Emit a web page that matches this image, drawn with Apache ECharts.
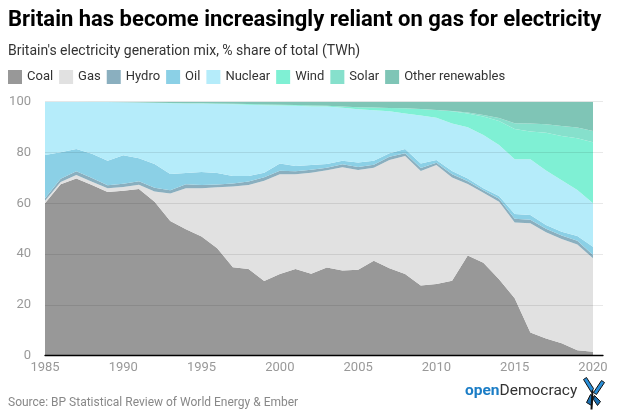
<!DOCTYPE html>
<html>
<head>
<meta charset="utf-8">
<script src="https://cdn.jsdelivr.net/npm/echarts@6/dist/echarts.min.js"></script>
<style>
html,body{margin:0;padding:0;background:#fff;}
#chart{width:618px;height:419px;}
</style>
</head>
<body>
<div id="chart"></div>
<script>
const years = [1985,1986,1987,1988,1989,1990,1991,1992,1993,1994,1995,1996,1997,1998,1999,2000,2001,2002,2003,2004,2005,2006,2007,2008,2009,2010,2011,2012,2013,2014,2015,2016,2017,2018,2019,2020];
const coal    = [60.0,67.5,69.8,67.2,64.4,64.9,65.6,60.6,53.0,49.8,46.9,42.3,34.8,34.1,29.4,32.2,34.1,32.3,34.7,33.5,33.8,37.4,34.4,32.2,27.6,28.2,29.5,39.4,36.6,30.1,22.6,9.1,6.8,4.9,2.1,1.6];
const gas     = [1.0,0.9,1.3,1.3,1.5,1.5,1.7,4.0,10.9,16.1,19.0,24.0,31.8,33.1,39.5,39.2,37.3,39.7,38.3,40.7,39.3,36.6,42.6,46.4,45.1,46.9,40.7,28.2,27.6,30.5,29.8,43.0,41.8,41.0,41.7,36.8];
const hydro   = [1.0,1.3,1.5,1.5,1.2,1.3,1.4,1.5,1.2,1.6,1.3,1.1,1.2,1.4,1.4,1.4,1.2,1.2,1.0,1.2,1.2,1.2,1.3,1.1,1.2,0.9,1.2,1.1,0.9,1.2,1.5,1.4,1.4,1.4,1.5,1.2];
const oil     = [17.0,10.4,8.8,9.5,9.7,11.2,9.0,9.4,6.4,4.4,5.1,4.5,2.9,2.1,1.7,2.9,2.1,1.9,1.5,1.4,1.8,1.6,1.4,1.7,1.8,1.0,1.3,1.1,0.8,1.1,1.9,1.9,1.5,1.5,1.8,3.3];
const nuclear = [21.0,19.9,18.6,20.4,23.1,20.9,22.0,24.0,27.9,27.4,27.0,27.2,28.3,28.1,26.6,22.8,23.7,23.0,22.6,20.8,20.9,19.8,16.5,14.0,18.9,16.7,18.7,20.1,21.0,20.1,21.5,21.9,21.4,20.3,18.1,17.1];
const wind    = [0,0,0,0,0,0,0,0.05,0.1,0.1,0.1,0.15,0.2,0.3,0.3,0.3,0.3,0.4,0.3,0.5,0.8,1.1,1.3,2.0,2.5,3.0,4.8,5.5,7.3,9.4,12.0,11.0,14.9,17.4,20.4,24.0];
const solar   = [0,0,0,0,0,0,0,0,0,0,0,0,0,0,0,0,0,0,0,0,0,0,0,0,0,0,0.1,0.3,0.6,1.2,2.2,3.1,3.3,3.9,4.2,4.5];
const otherRen= [0,0,0,0.1,0.1,0.2,0.3,0.4,0.5,0.6,0.6,0.7,0.8,0.9,1.1,1.2,1.3,1.5,1.6,1.9,2.2,2.3,2.5,2.6,2.9,3.3,3.7,4.3,5.2,6.4,8.5,8.6,8.9,9.6,10.2,11.5];
const yTicks = [0,20,40,60,80,100];

const seriesDefs = [
  ['Coal', coal, '#989898'],
  ['Gas', gas, '#e1e1e1'],
  ['Hydro', hydro, '#8aafbf'],
  ['Oil', oil, '#8bd0e6'],
  ['Nuclear', nuclear, '#b5ecfa'],
  ['Wind', wind, '#7ff0d4'],
  ['Solar', solar, '#86e0cc'],
  ['Other renewables', otherRen, '#7fc5b6']
];

const chart = echarts.init(document.getElementById('chart'), null, {renderer:'canvas'});
const font = 'Roboto, "Noto Sans", sans-serif';

const option = {
  animation: false,
  textStyle: {fontFamily: font},
  title: [
    {text: 'Britain has become increasingly reliant on gas for electricity', left: 8, top: 9, padding: 0,
     textStyle: {fontFamily: font, fontSize: 22, fontWeight: 'bold', color: '#000'}},
    {text: "Britain's electricity generation mix, % share of total (TWh)", left: 8, top: 44, padding: 0,
     textStyle: {fontFamily: font, fontSize: 14, fontWeight: 'normal', color: '#333'}},
    {text: 'Source: BP Statistical Review of World Energy & Ember', left: 8, top: 397, padding: 0,
     textStyle: {fontFamily: font, fontSize: 12, fontWeight: 'normal', color: '#888'}}
  ],
  legend: {
    left: 8, top: 70, padding: 0, itemWidth: 14, itemHeight: 14, itemGap: 6, icon: 'rect',
    textStyle: {fontFamily: font, fontSize: 13, color: '#333'},
    data: seriesDefs.map(d => d[0])
  },
  grid: {left: 45, right: 15, top: 101.7, bottom: 63.3},
  xAxis: {
    type: 'value', min: 1985, max: 2020.64, interval: 5, z: 5,
    axisLine: {show: true, lineStyle: {color: '#000', width: 1.3}},
    axisTick: {show: false},
    splitLine: {show: false},
    axisLabel: {showMaxLabel: false, color: '#999', fontSize: 13, margin: 6, fontFamily: font,
      formatter: v => String(v)}
  },
  yAxis: {
    type: 'value', min: 0, max: 100, interval: 20, z: 4,
    axisLine: {show: false}, axisTick: {show: false},
    splitLine: {lineStyle: {color: 'rgba(0,0,0,0.09)', width: 1}},
    axisLabel: {color: '#999', fontSize: 13, margin: 14, fontFamily: font,
      formatter: v => yTicks.includes(v) ? String(v) : ''}
  },
  series: seriesDefs.map(([name, vals, color]) => ({
    name, type: 'line', stack: 'total', symbol: 'none', showSymbol: false,
    // value first so that the stack is applied on the y (share) dimension
    data: years.map((y, i) => [vals[i], y]),
    encode: {x: 1, y: 0},
    lineStyle: {width: 0, color},
    itemStyle: {color},
    areaStyle: {color, opacity: 1},
    emphasis: {disabled: true}
  })),
  graphic: [
    {type: 'text', left: 465, top: 383,
     style: {text: '{a|open}{b|Democracy}', rich: {
       a: {fontFamily: font, fontSize: 15.5, fontWeight: 'bold', fill: '#1b7dc6'},
       b: {fontFamily: font, fontSize: 15.5, fill: '#333'}
     }}},
    {type: 'group', left: 583, top: 377, children: [
      {type: 'polygon', shape: {points: [[9,15],[1,2],[4,0],[11,11]]}, style: {fill: '#2a8fd8', stroke: '#111', lineWidth: 1}},
      {type: 'polygon', shape: {points: [[11,15],[19,3],[22,5],[14,17]]}, style: {fill: '#2a8fd8', stroke: '#111', lineWidth: 1}},
      {type: 'polygon', shape: {points: [[8,17],[4,25],[9,28],[11,19]]}, style: {fill: '#1b6fb0', stroke: '#111', lineWidth: 1}},
      {type: 'polygon', shape: {points: [[12,18],[18,24],[15,28],[11,22]]}, style: {fill: '#1b6fb0', stroke: '#111', lineWidth: 1}},
      {type: 'line', shape: {x1: 10, y1: 13, x2: 9, y2: 32}, style: {stroke: '#111', lineWidth: 2}}
    ]}
  ]
};
chart.setOption(option);
</script>
</body>
</html>
